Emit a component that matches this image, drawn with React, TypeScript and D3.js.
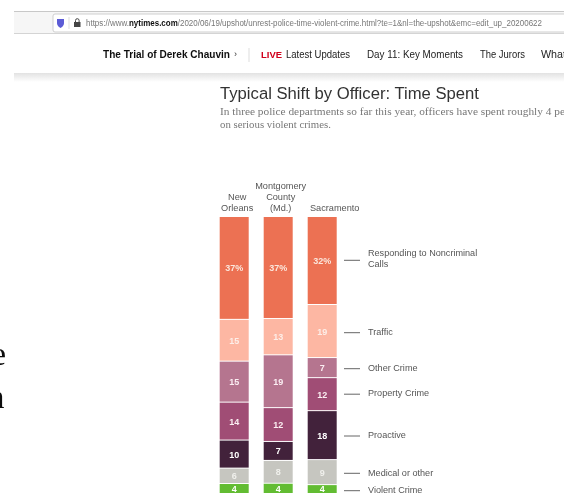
import React from "react";
import * as d3 from "d3";

const W = 576, H = 493;
const departments = [["New", "Orleans"], ["Montgomery", "County", "(Md.)"], ["Sacramento"]];
const deptLabelOffset = [3, 2.5, 12.5];
const categories = ["Responding to Noncriminal Calls", "Traffic", "Other Crime", "Property Crime", "Proactive", "Medical or other", "Violent Crime"];
const newOrleans = [37.4, 15.2, 14.9, 13.8, 10.2, 5.6, 4];
const montgomery = [37.1, 13.2, 19.2, 12.3, 6.9, 8.3, 4];
const sacramento = [32, 19.3, 7.3, 12, 17.8, 9.1, 4];
const seriesValues = [newOrleans, montgomery, sacramento];
const colors = ["#ec7152", "#fdb7a3", "#b5748f", "#a04e74", "#42233b", "#c6c6c0", "#62bc30"];
const labelColors = ["#fbe6dc", "#fdeee8", "#fbeef2", "#fbeef2", "#ffffff", "#f0f0ec", "#ffffff"];
const legendLabels = [["Responding to Noncriminal", "Calls"], ["Traffic"], ["Other Crime"], ["Property Crime"], ["Proactive"], ["Medical or other"], ["Violent Crime"]];
const legendY = [260.3, 332.7, 368.7, 394.2, 436, 473.3, 490.7];
const navItems = ["Latest Updates", "Day 11: Key Moments", "The Jurors", "What"];
const navX = [286, 367, 480, 541];
const navW = [64, 96, 45, 25];

const x = d3.scaleBand().domain(["0", "1", "2"]).range([219.7, 336.7]).paddingInner(15 / 44).paddingOuter(0);
const y = d3.scaleLinear().domain([0, 100]).range([217, 492]);

const sans = "'Liberation Sans', Arial, sans-serif";
const serif = "'Liberation Serif', 'DejaVu Serif', serif";
const grey = "#555";

export default function App() {
  return (
    <svg width={W} height={H} style={{ position: "absolute", left: 0, top: 0, background: "#fff" }} fontFamily={sans}>
      <defs>
        <filter id="soft" x="-5%" y="-5%" width="110%" height="110%"><feGaussianBlur stdDeviation="0.4" /></filter>
        <linearGradient id="shadow" x1="0" x2="0" y1="0" y2="1">
          <stop offset="0" stopColor="#e2e2e2" />
          <stop offset="1" stopColor="#fff" />
        </linearGradient>
        <clipPath id="page"><rect x={14} y={0} width={550} height={H} /></clipPath>
      </defs>
      <g filter="url(#soft)">
        <text x={6} y={364.5} fontSize={34} fontFamily={serif} fill="#111" textAnchor="end">e</text>
        <text x={4.5} y={408} fontSize={34} fontFamily={serif} fill="#111" textAnchor="end">n</text>
        <g clipPath="url(#page)">
          <rect x={14} y={11.5} width={550} height={22} fill="#f6f6f6" />
          <rect x={14} y={11} width={550} height={1} fill="#c8c8c8" />
          <rect x={14} y={33} width={550} height={1} fill="#d4d4d4" />
          <rect x={53} y={14} width={530} height={18} rx={2} fill="#fff" stroke="#cfcfcf" />
          <path d="M57 19 h7 v4 q0 3 -3.5 5 q-3.5 -2 -3.5 -5 z" fill="#5b5bd6" />
          <line x1={69} x2={69} y1={17} y2={29} stroke="#ddd" />
          <rect x={74} y={22} width={6.5} height={5} fill="#444" />
          <path d="M75.5 22 v-1.5 a1.8 1.8 0 0 1 3.6 0 v1.5" fill="none" stroke="#444" />
          <text x={86} y={25.5} fontSize={8.4} fill="#777" textLength={456} lengthAdjust="spacingAndGlyphs">
            https://www.<tspan fill="#111" fontWeight={700}>nytimes.com</tspan>/2020/06/19/upshot/unrest-police-time-violent-crime.html?te=1&amp;nl=the-upshot&amp;emc=edit_up_20200622
          </text>

          <text x={103} y={57.5} fontSize={10.5} fontWeight={700} fill="#111" textLength={127} lengthAdjust="spacingAndGlyphs">The Trial of Derek Chauvin</text>
          <text x={234} y={57} fontSize={9} fill="#333">›</text>
          <line x1={249} x2={249} y1={48} y2={62} stroke="#ddd" />
          <text x={261} y={57.5} fontSize={8.5} fontWeight={700} fill="#d0021b" textLength={21} lengthAdjust="spacingAndGlyphs">LIVE</text>
          {navItems.map((t, i) => (
            <text key={t} x={navX[i]} y={57.5} fontSize={10.5} fill="#222" textLength={navW[i]} lengthAdjust="spacingAndGlyphs">{t}</text>
          ))}
          <rect x={14} y={73} width={550} height={9} fill="url(#shadow)" />

          <text x={220} y={99} fontSize={16.7} fill="#333" textLength={259} lengthAdjust="spacingAndGlyphs">Typical Shift by Officer: Time Spent</text>
          <text x={220} y={115} fontSize={10.8} fontFamily={serif} fill="#777" textLength={345} lengthAdjust="spacingAndGlyphs">In three police departments so far this year, officers have spent roughly 4 pe</text>
          <text x={220} y={128} fontSize={10.8} fontFamily={serif} fill="#777">on serious violent crimes.</text>
        </g>

        {departments.map((lines, i) => (
          <text key={i} textAnchor="middle" fontSize={9.2} fill={grey}>
            {lines.map((l, j) => (
              <tspan key={l} x={x(String(i))! + x.bandwidth() / 2 + deptLabelOffset[i]} y={211 - (lines.length - 1 - j) * 11}>{l}</tspan>
            ))}
          </text>
        ))}

        {seriesValues.map((vals, i) => {
          const cum = d3.cumsum(vals);
          return (
            <g key={i}>
              {vals.map((v, k) => {
                const y0 = y(k === 0 ? 0 : cum[k - 1]);
                const y1 = y(cum[k]);
                const label = `${Math.round(v)}${k === 0 ? "%" : ""}`;
                return (
                  <g key={categories[k]}>
                    <rect x={x(String(i))} y={y0} width={x.bandwidth()} height={y1 - y0 - 1} fill={colors[k]} />
                    <text x={x(String(i))! + x.bandwidth() / 2} y={Math.min((y0 + y1) / 2 + 3, 492)} textAnchor="middle" fontSize={9} fontWeight={700} fill={labelColors[k]}>{label}</text>
                  </g>
                );
              })}
            </g>
          );
        })}

        {legendLabels.map((lines, k) => (
          <g key={categories[k]}>
            <line x1={344} x2={360} y1={legendY[k]} y2={legendY[k]} stroke="#666" />
            <text fontSize={9.1} fill={grey}>
              {lines.map((l, j) => (
                <tspan key={l} x={368} y={(k === 0 ? 256 : legendY[k] + 2.2) + j * 11}>{l}</tspan>
              ))}
            </text>
          </g>
        ))}
      </g>
    </svg>
  );
}
